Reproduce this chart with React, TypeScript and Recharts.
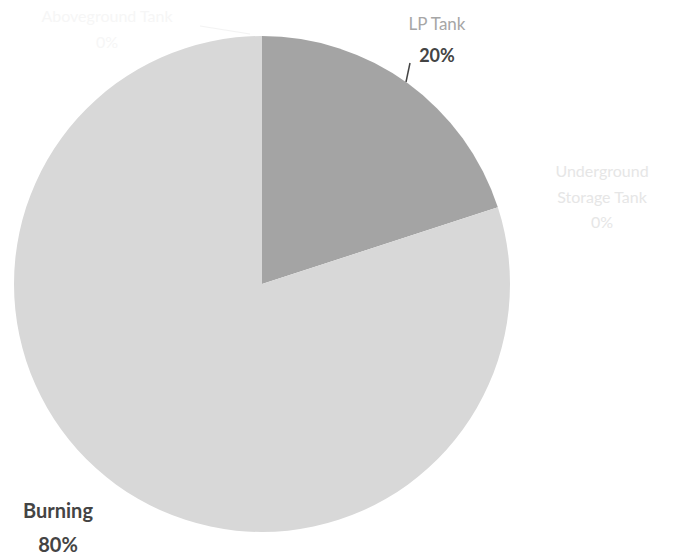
import React from 'react';
import { Cell, Pie, PieChart } from 'recharts';

const categories = ['LP Tank', 'Underground Storage Tank', 'Burning', 'Aboveground Tank'];
const shares = [20, 0, 80, 0];
const sliceColors = ['#a4a4a4', '#e2e2e2', '#d8d8d8', '#e6e6e6'];

const data = categories.map((name, i) => ({ name, value: shares[i] }));

// label placement relative to the pie centre, one per category
const labelSpots: Record<string, { dx: number; lines: { dy: number; key: 'name' | 'value' | 'line2' }[]; nameColor: string; valueColor: string; bold: boolean; size: number }> = {
  'LP Tank': {
    dx: 175,
    lines: [
      { dy: -254, key: 'name' },
      { dy: -222, key: 'value' },
    ],
    nameColor: '#a6a6a6',
    valueColor: '#444444',
    bold: false,
    size: 17,
  },
  'Underground Storage Tank': {
    dx: 340,
    lines: [
      { dy: -107, key: 'name' },
      { dy: -81, key: 'line2' },
      { dy: -56, key: 'value' },
    ],
    nameColor: '#e6e6e6',
    valueColor: '#e6e6e6',
    bold: false,
    size: 16,
  },
  Burning: {
    dx: -204,
    lines: [
      { dy: 234, key: 'name' },
      { dy: 268, key: 'value' },
    ],
    nameColor: '#444444',
    valueColor: '#444444',
    bold: true,
    size: 20,
  },
  'Aboveground Tank': {
    dx: -155,
    lines: [
      { dy: -262, key: 'name' },
      { dy: -236, key: 'value' },
    ],
    nameColor: '#f6f6f6',
    valueColor: '#f6f6f6',
    bold: false,
    size: 16,
  },
};

const FONT = 'Lato, "Open Sans", sans-serif';

const renderLabel = (props: any) => {
  const { cx, cy, name, value } = props;
  const spot = labelSpots[name];
  if (!spot) return null;
  const x = cx + spot.dx;
  return (
    <g>
      {spot.lines.map((ln) => {
        let text = '';
        let fill = spot.nameColor;
        let weight: any = spot.bold ? 700 : 400;
        let size = spot.size;
        if (ln.key === 'value') {
          text = `${value}%`;
          fill = spot.valueColor;
          if (name === 'LP Tank') {
            weight = 700;
            size = 18;
          }
        } else if (name === 'Underground Storage Tank') {
          text = ln.key === 'name' ? 'Underground' : 'Storage Tank';
        } else {
          text = name;
        }
        return (
          <text
            key={ln.key}
            x={x}
            y={cy + ln.dy}
            textAnchor="middle"
            fill={fill}
            fontFamily={FONT}
            fontWeight={weight}
            fontSize={size}
          >
            {text}
          </text>
        );
      })}
      {name === 'LP Tank' && (
        <line x1={cx + 144} y1={cy - 202} x2={cx + 148} y2={cy - 221} stroke="#444" strokeWidth={1.5} />
      )}
      {name === 'Aboveground Tank' && (
        <line x1={cx - 62} y1={cy - 258} x2={cx - 12} y2={cy - 250} stroke="#f3f3f3" strokeWidth={1} />
      )}
    </g>
  );
};

export default function App() {
  return (
    <div style={{ position: 'absolute', left: 0, top: 0, width: 679, height: 559, background: '#fff' }}>
      <PieChart width={679} height={559} margin={{ top: 0, right: 0, bottom: 0, left: 0 }}>
        <Pie
          data={data}
          dataKey="value"
          nameKey="name"
          cx={262}
          cy={284}
          outerRadius={248}
          startAngle={90}
          endAngle={-270}
          stroke="none"
          label={renderLabel}
          labelLine={false}
          isAnimationActive={false}
        >
          {data.map((d, i) => (
            <Cell key={d.name} fill={sliceColors[i]} />
          ))}
        </Pie>
      </PieChart>
    </div>
  );
}
